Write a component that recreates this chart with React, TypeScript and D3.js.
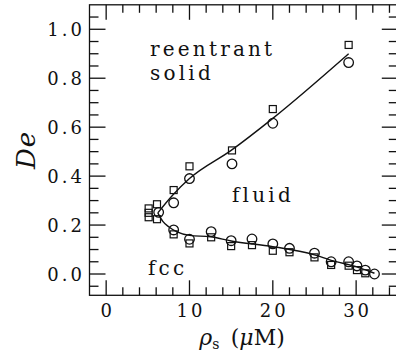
import React, { useEffect, useRef } from 'react';
import * as d3 from 'd3';

// Measured points, squares and circles (rho_s in uM, De)
const squareX = [5.1, 5.1, 5.1, 6.1, 6.1, 8.1, 10.0, 15.1, 20.0, 29.1, 8.1, 10.0, 12.6, 15.0, 17.5, 20.0, 22.0, 25.0, 27.0, 29.1, 30.1, 31.1];
const squareY = [0.268, 0.25, 0.232, 0.285, 0.224, 0.343, 0.44, 0.505, 0.674, 0.936, 0.162, 0.125, 0.15, 0.114, 0.118, 0.095, 0.089, 0.068, 0.037, 0.034, 0.016, 0.003];

const circleX = [6.3, 8.1, 10.0, 15.1, 20.0, 29.1, 8.1, 10.0, 12.6, 15.0, 17.5, 20.0, 22.0, 25.0, 27.0, 29.1, 30.1, 31.1, 32.2];
const circleY = [0.252, 0.291, 0.39, 0.45, 0.616, 0.864, 0.18, 0.142, 0.173, 0.136, 0.143, 0.123, 0.105, 0.085, 0.05, 0.05, 0.033, 0.016, 0.0];

// Fitted boundary lines
const upperX = [6.2, 8, 10, 15, 20, 29.1];
const upperY = [0.25, 0.323, 0.39, 0.505, 0.636, 0.9];
const lowerX = [6.2, 6.8, 7.5, 8.5, 10, 12.5, 15, 20, 25, 27, 30, 32.2];
const lowerY = [0.25, 0.215, 0.193, 0.172, 0.158, 0.152, 0.135, 0.112, 0.078, 0.056, 0.03, 0.003];

const xMajor = [0, 10, 20, 30];
const yMajor = [0, 0.2, 0.4, 0.6, 0.8, 1.0];

const width = 396;
const height = 356;
const serif = 'DejaVu Serif, Liberation Serif, serif';

export default function App() {
  const svgRef = useRef<SVGSVGElement>(null);

  useEffect(() => {
    if (!svgRef.current) return;
    const svg = d3.select(svgRef.current).attr('font-family', serif);
    svg.selectAll('*').remove();

    const x = d3.scaleLinear().domain([-2, 35]).range([89.5, 397.8]);
    const y = d3.scaleLinear().domain([-0.087, 1.1]).range([295.3, 4.8]);
    const [x0, x1] = x.range();
    const [yb, yt] = y.range();

    svg.append('rect').attr('width', width).attr('height', height).attr('fill', '#fff');

    const ax = svg.append('g').attr('stroke', '#111').attr('stroke-width', 1.3);

    // frame
    ax.append('rect')
      .attr('x', x0).attr('y', yt)
      .attr('width', x1 - x0).attr('height', yb - yt)
      .attr('fill', 'none');

    // x ticks, bottom and top
    const xTicks = d3.range(0, 35, 2);
    xTicks.forEach((t) => {
      const len = t % 10 === 0 ? 15 : 8;
      ax.append('line').attr('x1', x(t)).attr('x2', x(t)).attr('y1', yb).attr('y2', yb - len);
      ax.append('line').attr('x1', x(t)).attr('x2', x(t)).attr('y1', yt).attr('y2', yt + len);
    });

    // y ticks, left and right
    const yTicks = d3.range(-1, 22).map((i) => i * 0.05);
    yTicks.forEach((t, i) => {
      const len = (i - 1) % 4 === 0 ? 16 : 9;
      ax.append('line').attr('y1', y(t)).attr('y2', y(t)).attr('x1', x0).attr('x2', x0 + len);
      ax.append('line').attr('y1', y(t)).attr('y2', y(t)).attr('x1', x1).attr('x2', x1 - len);
    });

    // tick labels
    svg.append('g')
      .selectAll('text')
      .data(xMajor)
      .enter()
      .append('text')
      .attr('x', (d) => x(d) + 1.5)
      .attr('y', 317)
      .attr('text-anchor', 'middle')
      .attr('font-family', serif)
      .attr('font-size', 18)
      .attr('letter-spacing', 3)
      .attr('fill', '#111')
      .text((d) => String(d));

    svg.append('g')
      .selectAll('text')
      .data(yMajor)
      .enter()
      .append('text')
      .attr('x', 85)
      .attr('y', (d) => y(d) + 7)
      .attr('text-anchor', 'end')
      .attr('font-family', serif)
      .attr('font-size', 18)
      .attr('letter-spacing', 3)
      .attr('fill', '#111')
      .text((d) => d.toFixed(1));

    // boundary lines
    const line = d3
      .line<[number, number]>()
      .x((d) => x(d[0]))
      .y((d) => y(d[1]))
      .curve(d3.curveMonotoneX);

    svg.append('path')
      .datum(upperX.map((v, i) => [v, upperY[i]] as [number, number]))
      .attr('fill', 'none')
      .attr('stroke', '#111')
      .attr('stroke-width', 1.4)
      .attr('d', line);

    svg.append('path')
      .datum(lowerX.map((v, i) => [v, lowerY[i]] as [number, number]))
      .attr('fill', 'none')
      .attr('stroke', '#111')
      .attr('stroke-width', 1.4)
      .attr('d', line);

    // markers
    const s = 7;
    svg.append('g')
      .selectAll('rect')
      .data(squareX.map((v, i) => [v, squareY[i]]))
      .enter()
      .append('rect')
      .attr('x', (d) => x(d[0]) - s / 2)
      .attr('y', (d) => y(d[1]) - s / 2)
      .attr('width', s)
      .attr('height', s)
      .attr('fill', 'none')
      .attr('stroke', '#111')
      .attr('stroke-width', 1.2);

    svg.append('g')
      .selectAll('circle')
      .data(circleX.map((v, i) => [v, circleY[i]]))
      .enter()
      .append('circle')
      .attr('cx', (d) => x(d[0]))
      .attr('cy', (d) => y(d[1]))
      .attr('r', 4.8)
      .attr('fill', 'none')
      .attr('stroke', '#111')
      .attr('stroke-width', 1.3);

    // region labels
    const regions: [string, number, number][] = [
      ['reentrant', 150, 56],
      ['solid', 150, 80],
      ['fluid', 232, 202],
      ['fcc', 148, 275],
    ];
    regions.forEach(([t, px, py]) => {
      svg.append('text')
        .attr('x', px)
        .attr('y', py)
        .attr('font-family', serif)
        .attr('font-size', 20)
        .attr('letter-spacing', 3.2)
        .attr('fill', '#111')
        .text(t);
    });

    // axis titles
    const xt = svg.append('text')
      .attr('x', 242)
      .attr('y', 345)
      .attr('text-anchor', 'middle')
      .attr('font-family', serif)
      .attr('font-size', 22)
      .attr('fill', '#111');
    xt.append('tspan').attr('font-style', 'italic').text('ρ');
    xt.append('tspan').attr('dy', 4).attr('font-size', 14).text('s');
    xt.append('tspan').attr('dy', -4).text('\u2009 (');
    xt.append('tspan').attr('font-style', 'italic').text('μ');
    xt.append('tspan').text('M)');

    svg.append('text')
      .attr('transform', 'translate(35,150) rotate(-90)')
      .attr('text-anchor', 'middle')
      .attr('font-family', serif)
      .attr('font-size', 26)
      .attr('font-style', 'italic')
      .attr('letter-spacing', 1)
      .attr('fill', '#111')
      .text('De');
  }, []);

  return (
    <div style={{ position: 'absolute', left: 0, top: 0 }}>
      <svg ref={svgRef} width={width} height={height} style={{ display: 'block' }} />
    </div>
  );
}
